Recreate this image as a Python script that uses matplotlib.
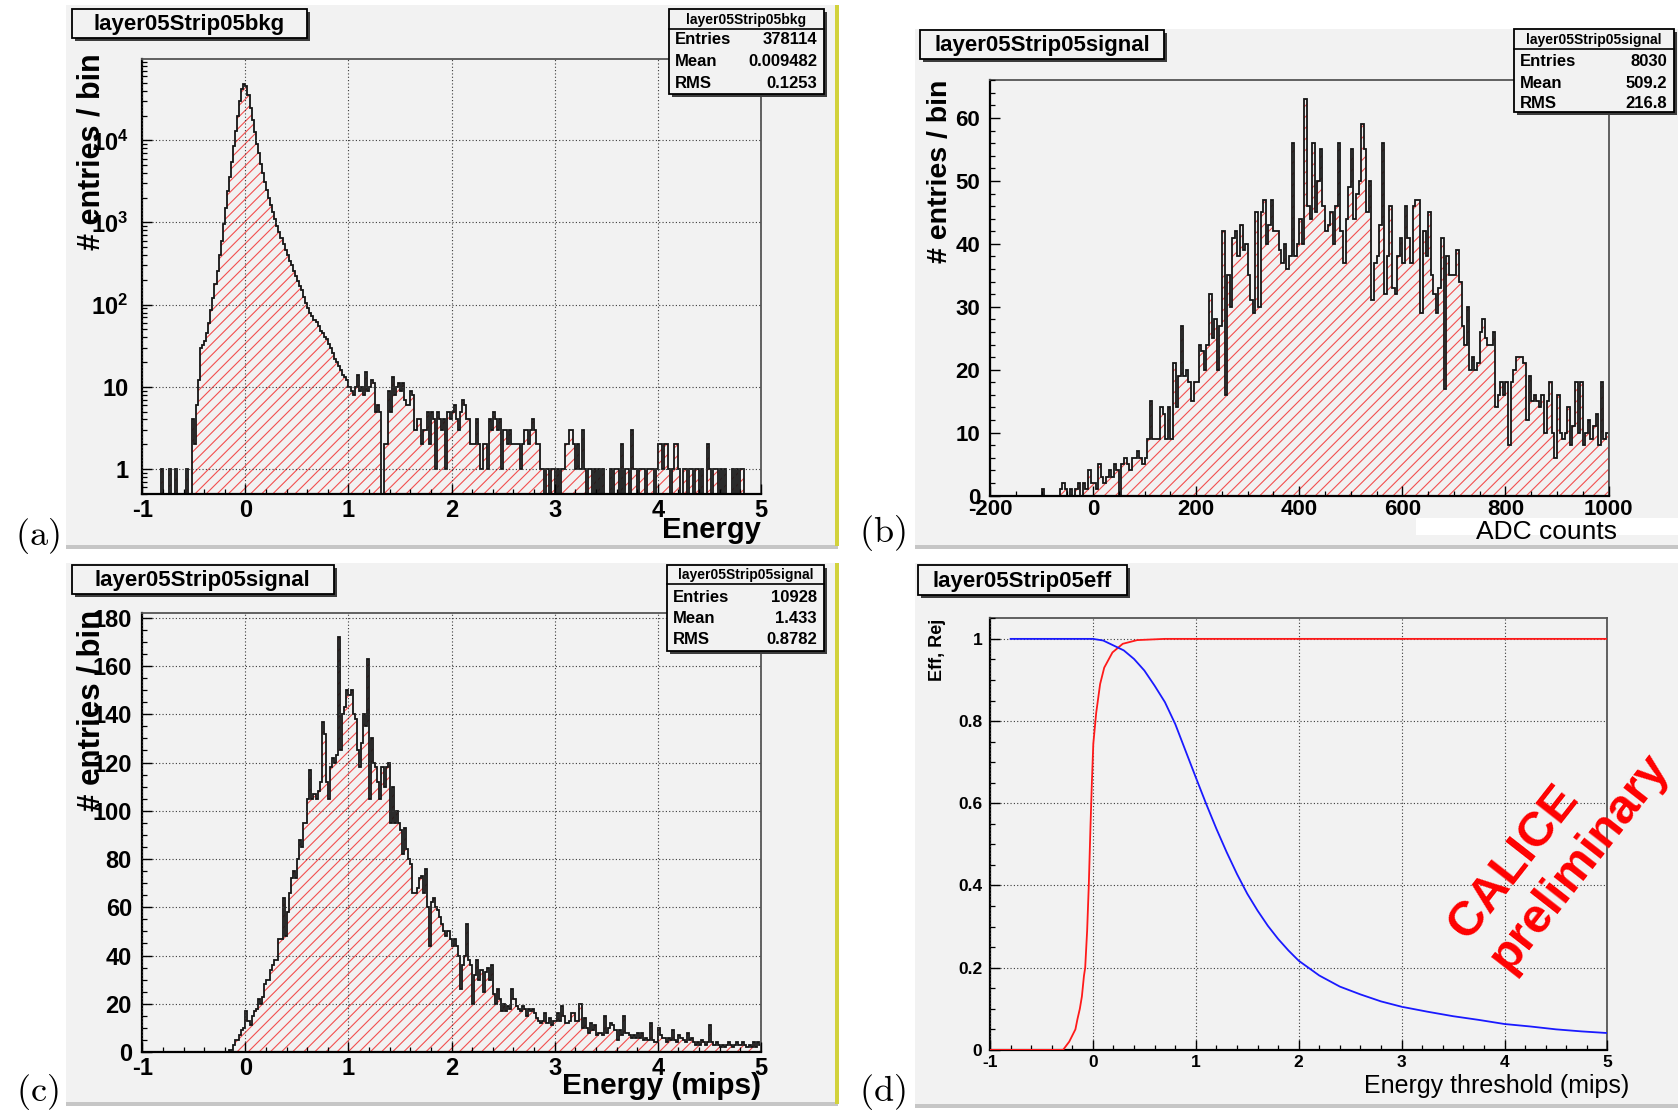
import numpy as np
import matplotlib.pyplot as plt
from matplotlib.patches import Rectangle
from matplotlib.ticker import MultipleLocator, LogLocator, FuncFormatter, NullFormatter

plt.rcParams['font.family'] = ['Liberation Sans', 'DejaVu Sans']
plt.rcParams['font.weight'] = 'bold'
plt.rcParams['axes.unicode_minus'] = False
plt.rcParams['mathtext.fontset'] = 'custom'
plt.rcParams['mathtext.bf'] = 'Liberation Sans:bold'
plt.rcParams['mathtext.rm'] = 'Liberation Sans:bold'
plt.rcParams['hatch.linewidth'] = 0.8
plt.rcParams['hatch.color'] = '#f25050'

W, H = 1678, 1113

# ---------------- data ----------------
# (a) background energy, 0.02 bins from -1 to 5 (rows of 25 bins = 0.5 units)
a_counts = [
    0, 0, 0, 0, 0, 0, 0, 0, 0, 1, 0, 0, 0, 1, 0, 0, 1, 0, 0, 0, 0, 1, 0, 0, 4,
    2, 6, 12, 30, 32, 36, 45, 60, 85, 120, 180, 260, 400, 600, 950, 1500, 2400, 3600, 5500, 8500,
    13000, 20000, 30000, 42000, 48000,
    46000, 36000, 25000, 17500, 12500, 9000, 7000, 5200, 4000, 3100, 2500, 2000, 1650, 1350, 1100,
    900, 760, 640, 540, 460, 400, 340, 300, 260, 225,
    195, 170, 150, 125, 105, 92, 80, 72, 65, 62, 55, 48, 45, 40, 38, 33, 30, 26, 22, 20, 18, 16, 14, 13, 12,
    10, 9, 8, 10, 14, 9, 10, 8, 15, 9, 10, 12, 11, 5, 6, 5, 0, 2, 2, 9, 5, 13, 8, 10, 11,
    9, 11, 7, 6, 6, 9, 8, 3, 4, 4, 2, 3, 3, 5, 2, 5, 4, 1, 5, 4, 3, 4, 1, 5, 4,
    5, 6, 4, 3, 5, 7, 6, 4, 4, 2, 2, 2, 4, 2, 1, 2, 2, 1, 4, 3, 5, 4, 3, 4, 1,
    3, 3, 2, 3, 2, 2, 2, 2, 1, 2, 3, 3, 2, 3, 4, 3, 2, 2, 1, 1, 0, 1, 0, 1, 1,
    0, 1, 0, 1, 1, 2, 2, 3, 3, 2, 1, 2, 1, 3, 1, 0, 1, 1, 0, 1, 0, 1, 0, 1, 0,
    0, 0, 1, 0, 1, 1, 0, 2, 0, 1, 1, 0, 3, 1, 1, 0, 1, 1, 1, 0, 1, 1, 1, 0, 1,
    2, 2, 1, 2, 2, 1, 0, 1, 2, 2, 1, 0, 1, 1, 0, 1, 1, 0, 1, 1, 0, 1, 0, 0, 2,
    1, 0, 1, 1, 0, 1, 0, 1, 0, 0, 0, 1, 0, 1, 0, 1, 1, 0, 0, 0, 0, 0, 0, 0, 0,
]
a_range = (-1.0, 5.0)

# (b) signal in ADC counts, 5-count bins from -100 to 1000 (rows of 20 bins)
b_counts = [
    1, 0, 0, 0, 0, 0, 0, 1, 2, 1, 0, 1, 0, 1, 2, 0, 2, 1, 4, 2,
    2, 1, 5, 3, 2, 3, 4, 3, 5, 4, 0, 5, 6, 5, 4, 6, 6, 7, 6, 5,
    6, 9, 15, 9, 9, 9, 14, 13, 9, 14, 9, 21, 14, 19, 27, 19, 20, 18, 15, 18,
    18, 24, 23, 20, 24, 32, 25, 28, 20, 27, 42, 16, 35, 30, 41, 42, 38, 43, 39, 40,
    35, 31, 29, 45, 30, 45, 47, 40, 43, 47, 42, 42, 39, 37, 40, 36, 38, 56, 38, 40,
    44, 40, 63, 46, 44, 56, 45, 50, 55, 46, 42, 43, 45, 40, 46, 56, 42, 37, 44, 49,
    55, 44, 48, 50, 59, 55, 45, 50, 31, 37, 38, 43, 56, 32, 38, 46, 33, 32, 38, 41,
    37, 46, 41, 37, 46, 47, 47, 29, 42, 38, 45, 35, 32, 29, 33, 41, 17, 38, 35, 35,
    35, 39, 34, 27, 24, 30, 20, 22, 20, 21, 26, 28, 25, 24, 24, 26, 14, 16, 18, 16,
    18, 8, 18, 20, 22, 22, 22, 21, 12, 19, 15, 16, 15, 14, 16, 10, 15, 18, 10, 6,
    16, 10, 9, 10, 14, 8, 11, 18, 10, 18, 8, 10, 12, 9, 11, 13, 8, 18, 9, 10,
]
b_range = (-100, 1000)

# (c) signal in mips, 0.02 bins from -1 to 5 (rows of 25 bins)
c_counts = [
    0, 0, 0, 0, 0, 0, 0, 0, 0, 0, 0, 0, 0, 0, 0, 0, 0, 0, 0, 0, 0, 0, 0, 0, 0,
    0, 0, 0, 0, 0, 0, 0, 0, 0, 0, 0, 0, 0, 0, 0, 0, 0, 1, 1, 3, 5, 5, 7, 9, 10,
    17, 13, 11, 15, 17, 18, 22, 20, 23, 28, 30, 30, 34, 36, 38, 38, 47, 47, 64, 48, 58, 66, 72, 75, 72,
    80, 88, 85, 95, 95, 105, 117, 105, 107, 105, 108, 112, 137, 132, 112, 105, 118, 122, 120, 123,
    172, 125, 140, 143, 150,
    148, 150, 140, 138, 125, 118, 128, 140, 135, 163, 105, 130, 120, 118, 112, 105, 118, 110, 118, 120,
    95, 110, 95, 100, 95,
    92, 82, 93, 84, 80, 78, 66, 66, 68, 72, 73, 66, 76, 60, 44, 62, 64, 60, 59, 56, 53, 50, 48, 50, 47,
    44, 47, 44, 40, 26, 36, 40, 53, 38, 36, 20, 32, 38, 30, 34, 25, 33, 35, 30, 36, 24, 20, 26, 22, 17,
    20, 17, 19, 18, 26, 22, 19, 18, 17, 19, 18, 15, 18, 17, 18, 16, 14, 13, 12, 13, 16, 12, 14, 11, 13,
    13, 16, 13, 19, 15, 12, 12, 13, 16, 16, 13, 13, 20, 10, 14, 10, 8, 12, 9, 11, 7, 8, 8, 7, 15,
    8, 10, 12, 11, 9, 5, 9, 7, 15, 8, 8, 7, 6, 7, 6, 8, 6, 8, 5, 6, 5, 12, 5, 4, 4,
    10, 7, 6, 6, 4, 6, 5, 9, 5, 4, 7, 6, 5, 4, 8, 5, 6, 4, 3, 4, 3, 5, 4, 3, 4,
    11, 4, 3, 4, 3, 2, 3, 2, 3, 4, 3, 2, 3, 4, 3, 3, 4, 3, 2, 3, 2, 4, 2, 4, 3,
]
c_range = (-1.0, 5.0)

# (d) signal efficiency (blue) and background rejection (red) vs threshold
eff_thr = [-0.8, 0.0, 0.1, 0.2, 0.3, 0.4, 0.5, 0.6, 0.7, 0.8, 0.9, 1.0, 1.1, 1.2, 1.3, 1.4,
           1.5, 1.6, 1.7, 1.8, 1.9, 2.0, 2.2, 2.4, 2.6, 2.8, 3.0, 3.25, 3.5, 3.75, 4.0,
           4.25, 4.5, 4.75, 5.0]
eff_val = [1.0, 1.0, 0.996, 0.984, 0.972, 0.951, 0.923, 0.886, 0.846, 0.793, 0.728, 0.663,
           0.599, 0.538, 0.481, 0.428, 0.380, 0.339, 0.302, 0.270, 0.242, 0.217, 0.181,
           0.154, 0.135, 0.118, 0.105, 0.093, 0.082, 0.073, 0.063, 0.057, 0.050, 0.045, 0.041]
rej_thr = [-1.0, -0.29, -0.26, -0.23, -0.2, -0.17, -0.15, -0.127, -0.107, -0.087, -0.075,
           -0.056, -0.04, -0.024, -0.01, 0.004, 0.032, 0.07, 0.11, 0.19, 0.29, 0.43, 0.7, 5.0]
rej_val = [0.0, 0.0, 0.01, 0.02, 0.035, 0.05, 0.075, 0.10, 0.13, 0.18, 0.20, 0.29, 0.40,
           0.54, 0.65, 0.745, 0.82, 0.89, 0.93, 0.967, 0.988, 0.997, 1.0, 1.0]

stats_a = ['layer05Strip05bkg', '378114', '0.009482', '0.1253']
stats_b = ['layer05Strip05signal', '8030', '509.2', '216.8']
stats_c = ['layer05Strip05signal', '10928', '1.433', '0.8782']

# ---------------- helpers ----------------
PAD = '#f2f2f2'
HATCH = '#f25050'
LINE = '#151515'

fig = plt.figure(figsize=(W / 100, H / 100), dpi=100)
fig.patch.set_facecolor('white')


def rect(x0, y0, x1, y1):
    return [x0 / W, 1 - y1 / H, (x1 - x0) / W, (y1 - y0) / H]


def fbox(x0, y0, x1, y1, face, edge='none', lw=0, z=-5):
    fig.add_artist(Rectangle((x0 / W, 1 - y1 / H), (x1 - x0) / W, (y1 - y0) / H,
                             transform=fig.transFigure, facecolor=face, edgecolor=edge,
                             linewidth=lw, zorder=z))


def ftext(x, y, s, **kw):
    kw.setdefault('zorder', 7)
    return fig.text(x / W, 1 - y / H, s, **kw)


def pave(x0, y0, x1, y1):
    # ROOT-like box with shadow
    fbox(x0 + 3, y0 + 3, x1 + 3, y1 + 3, '#3c3c3c', z=5)
    fbox(x0, y0, x1, y1, PAD, edge='black', lw=1.3, z=5.5)


def title_box(x0, y0, x1, y1, s):
    pave(x0, y0, x1, y1)
    ftext((x0 + x1) / 2, (y0 + y1) / 2 + 1, s, fontsize=16, ha='center', va='center')


def stats_box(x0, y0, x1, y1, sep, rows_y, vals):
    pave(x0, y0, x1, y1)
    fig.add_artist(plt.Line2D([x0 / W, x1 / W], [1 - sep / H] * 2, transform=fig.transFigure,
                              color='black', lw=1.2, zorder=6))
    ftext((x0 + x1) / 2, (y0 + sep) / 2 + 1, vals[0], fontsize=10, ha='center', va='center')
    for lab, val, yy in zip(['Entries', 'Mean', 'RMS'], vals[1:], rows_y):
        ftext(x0 + 6, yy, lab, fontsize=12, ha='left', va='center')
        ftext(x1 - 7, yy, val, fontsize=12, ha='right', va='center')


def style(ax, tsize, ypad, xpad):
    ax.set_facecolor('none')
    ax.tick_params(which='major', direction='in', length=7.5, width=1.0,
                   labelsize=tsize, top=False, right=False)
    ax.tick_params(which='minor', direction='in', length=3.8, width=0.9, top=False, right=False)
    ax.tick_params(axis='y', which='major', pad=ypad)
    ax.tick_params(axis='x', which='major', pad=xpad)
    for s in ['left', 'bottom']:
        ax.spines[s].set_linewidth(1.6)
        ax.spines[s].set_color('black')
    for s in ['top', 'right']:
        ax.spines[s].set_linewidth(1.3)
        ax.spines[s].set_color('#555555')
    ax.grid(True, which='major', color='#3a3a3a', linestyle=(0, (1, 2)), linewidth=0.8)
    ax.set_axisbelow(False)


def hist(ax, counts, lo, hi, floor=None):
    vals = np.array(counts, dtype=float)
    edges = np.linspace(lo, hi, len(vals) + 1)
    base = 0
    if floor is not None:
        vals = np.where(vals > 0, vals, floor)
        base = floor
    ax.stairs(vals, edges, baseline=base, fill=True, facecolor='none', edgecolor=HATCH,
              hatch='///', linewidth=0, zorder=1)
    ax.stairs(vals, edges, baseline=base, color=LINE, linewidth=1.3, zorder=2)


# ---------------- pads ----------------
for (x0, y0, x1, y1) in [(66, 5, 838, 545), (915, 29, 1678, 545),
                         (66, 563, 838, 1102), (915, 563, 1678, 1104)]:
    fbox(x0, y0, x1, y1, PAD, z=-6)
    fbox(x0, y1, x1, y1 + 4, '#c6c6c6', z=-6)
fbox(835, 5, 839, 546, '#d2d23c', z=-5)
fbox(835, 563, 839, 1104, '#d2d23c', z=-5)

# ---------------- (a) ----------------
ax = fig.add_axes(rect(142.3, 58.9, 760.9, 494.4))
hist(ax, a_counts, *a_range, floor=1e-2)
ax.set_yscale('log')
ax.set_xlim(-1, 5)
ax.set_ylim(0.49, 9.8e4)
ax.xaxis.set_major_locator(MultipleLocator(1))
ax.xaxis.set_minor_locator(MultipleLocator(0.2))
ax.yaxis.set_major_locator(LogLocator(base=10, numticks=12))
ax.yaxis.set_minor_locator(LogLocator(base=10, subs=np.arange(2, 10), numticks=12))
ax.yaxis.set_minor_formatter(NullFormatter())
ax.yaxis.set_major_formatter(FuncFormatter(
    lambda v, _: {1: '1', 10: '10'}.get(int(round(v)), r'$\mathbf{10^{%d}}$' % round(np.log10(v)))))
style(ax, 17, 10, 3.5)
ftext(91, 53.5, '# entries / bin', fontsize=22, rotation=90, ha='center', va='top')
ftext(761, 530, 'Energy', fontsize=21, ha='right', va='center')
title_box(71.7, 8.6, 307, 37.5, 'layer05Strip05bkg')
stats_box(669, 8.6, 824, 94, 29, [40, 61.5, 83], stats_a)

# ---------------- (b) ----------------
ax = fig.add_axes(rect(990, 80.3, 1608.5, 495.5))
hist(ax, b_counts, *b_range)
ax.set_xlim(-200, 1000)
ax.set_ylim(0, 66)
ax.xaxis.set_major_locator(MultipleLocator(200))
ax.xaxis.set_minor_locator(MultipleLocator(50))
ax.yaxis.set_major_locator(MultipleLocator(10))
ax.yaxis.set_minor_locator(MultipleLocator(2))
style(ax, 16, 7, 2.5)
ax.grid(False)
ftext(940, 80, '# entries / bin', fontsize=20.5, rotation=90, ha='center', va='top')
fbox(1416, 518, 1678, 535, 'white', z=6)
ftext(1546, 532, 'ADC counts', fontsize=19, fontweight='normal', ha='center', va='center')
title_box(920, 30, 1164, 59, 'layer05Strip05signal')
stats_box(1514, 29, 1674, 112, 49, [62, 83.5, 104], stats_b)

# ---------------- (c) ----------------
ax = fig.add_axes(rect(142.3, 613, 760.9, 1052))
hist(ax, c_counts, *c_range)
ax.set_xlim(-1, 5)
ax.set_ylim(0, 182)
ax.xaxis.set_major_locator(MultipleLocator(1))
ax.xaxis.set_minor_locator(MultipleLocator(0.2))
ax.yaxis.set_major_locator(MultipleLocator(20))
ax.yaxis.set_minor_locator(MultipleLocator(5))
style(ax, 17, 7.5, 3.5)
ftext(91, 610, '# entries / bin', fontsize=22.5, rotation=90, ha='center', va='top')
ftext(761, 1086, 'Energy (mips)', fontsize=21.5, ha='right', va='center')
title_box(71.7, 565, 334, 594, 'layer05Strip05signal')
stats_box(667, 565, 824, 651, 584, [597, 618.6, 640], stats_c)

# ---------------- (d) ----------------
ax = fig.add_axes(rect(990, 617.5, 1607.4, 1049.9))
ax.plot(rej_thr, rej_val, color='#ff1a1a', lw=1.3, zorder=3)
ax.plot(eff_thr, eff_val, color='#1a1aff', lw=1.3, zorder=3)
ax.set_xlim(-1, 5)
ax.set_ylim(0, 1.052)
ax.xaxis.set_major_locator(MultipleLocator(1))
ax.xaxis.set_minor_locator(MultipleLocator(0.2))
ax.yaxis.set_major_locator(MultipleLocator(0.2))
ax.yaxis.set_minor_locator(MultipleLocator(0.05))
ax.yaxis.set_major_formatter(FuncFormatter(lambda v, _: '%g' % round(v, 2)))
style(ax, 12.5, 5.5, 3.8)
ftext(937.5, 618.5, 'Eff, Rej', fontsize=13, rotation=90, ha='center', va='top')
ftext(1629, 1086, 'Energy threshold (mips)', fontsize=18, fontweight='normal',
      ha='right', va='center')
title_box(918, 565, 1127, 595, 'layer05Strip05eff')
ftext(1559, 846, 'CALICE\npreliminary', fontsize=35, color='#ff0000', rotation=52,
      rotation_mode='anchor', ha='center', va='center', multialignment='left',
      linespacing=1.2)

# ---------------- panel letters ----------------
for s, x, y in [('(a)', 37, 536), ('(b)', 882, 533), ('(c)', 37, 1092), ('(d)', 882, 1092)]:
    ftext(x, y, r'$\mathrm{%s}$' % s, fontsize=26, fontweight='normal', math_fontfamily='cm',
          ha='center', va='center')

fig.savefig('out.png', dpi=100)
